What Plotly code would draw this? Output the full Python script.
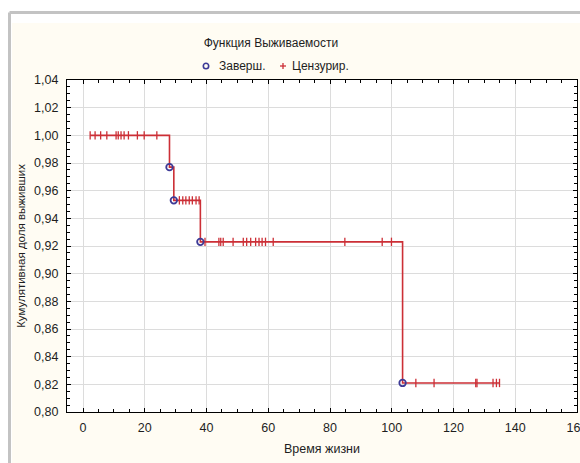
import plotly.graph_objects as go

# ---- data ----
event_times = [28.0, 29.4, 38.0, 103.5]
event_surv = [0.977, 0.953, 0.923, 0.821]

censor_times_1 = [2.3, 3.9, 5.7, 7.7, 10.7, 11.4, 12.3, 13.3, 14.7, 17.6, 19.8, 23.9]
censor_times_2 = [31.2, 32.3, 33.3, 34.4, 35.4, 36.6, 37.6]
censor_times_3 = [39.5, 44.0, 44.6, 45.4, 48.6, 51.9, 53.0, 54.3, 55.9, 57.0, 58.0,
                  59.1, 61.6, 84.8, 96.9, 99.9]
censor_times_4 = [107.8, 113.7, 127.2, 127.6, 132.8, 133.9, 134.9]
censor_levels = [1.0, 0.953, 0.923, 0.821]

line_start = 2.3
line_end = 135.0

title_text = "Функция Выживаемости"
legend_event = "Заверш."
legend_censor = "Цензурир."
x_title = "Время жизни"
y_title = "Кумулятивная доля выживших"

x_ticks = [0, 20, 40, 60, 80, 100, 120, 140, 160]
y_ticks = [0.80, 0.82, 0.84, 0.86, 0.88, 0.90, 0.92, 0.94, 0.96, 0.98, 1.00, 1.02, 1.04]

# ---- build step curve from data ----
step_x = [line_start] + event_times + [line_end]
step_y = [1.0] + event_surv + [event_surv[-1]]

cx, cy = [], []
for times, lvl in zip([censor_times_1, censor_times_2, censor_times_3, censor_times_4],
                      censor_levels):
    cx += times
    cy += [lvl] * len(times)

RED = "#cc2f36"
BLUE = "#3d3a96"
FONT = "Liberation Sans, Arial, sans-serif"
TXT = "#1e1e1e"

fig = go.Figure()
fig.add_trace(go.Scatter(x=step_x, y=step_y, mode="lines", line_shape="hv",
                         line=dict(color=RED, width=1.6), showlegend=False,
                         hoverinfo="skip"))
fig.add_trace(go.Scatter(x=cx, y=cy, mode="markers", name=legend_censor, showlegend=False,
                         marker=dict(symbol="line-ns", size=6,
                                     line=dict(color=RED, width=1.3), color=RED)))
fig.add_trace(go.Scatter(x=event_times, y=event_surv, mode="markers", name=legend_event,
                         showlegend=False,
                         marker=dict(symbol="circle-open", size=6.5,
                                     line=dict(color=BLUE, width=1.8), color=BLUE)))

W, H = 580, 463
L, R, T, B = 67, 3, 80, 51
pw, ph = W - L - R, H - T - B


def px(p):
    return (p - L) / pw


def py(q):
    return (H - B - q) / ph


LEG_Y = 66
shapes = [
    # white outer strip (top and left)
    dict(type="rect", xref="paper", yref="paper", x0=px(-5), x1=px(600), y0=py(-5), y1=py(23),
         fillcolor="white", line=dict(width=0), layer="below"),
    dict(type="rect", xref="paper", yref="paper", x0=px(-5), x1=px(12), y0=py(-5), y1=py(480),
         fillcolor="white", line=dict(width=0), layer="below"),
    # grey frame
    dict(type="line", xref="paper", yref="paper", x0=px(9.5), x1=px(600), y0=py(12.5), y1=py(12.5),
         line=dict(color="#c3c3c3", width=3)),
    dict(type="line", xref="paper", yref="paper", x0=px(9.5), x1=px(9.5), y0=py(12.5), y1=py(480),
         line=dict(color="#c3c3c3", width=3)),
    # legend symbols
    dict(type="circle", xref="paper", yref="paper", xsizemode="pixel", ysizemode="pixel",
         xanchor=px(206), yanchor=py(LEG_Y), x0=-2.7, x1=2.7, y0=-2.7, y1=2.7,
         line=dict(color=BLUE, width=1.6)),
    dict(type="line", xref="paper", yref="paper", xsizemode="pixel", ysizemode="pixel",
         xanchor=px(283), yanchor=py(LEG_Y), x0=-3, x1=3, y0=0, y1=0,
         line=dict(color=RED, width=1.3)),
    dict(type="line", xref="paper", yref="paper", xsizemode="pixel", ysizemode="pixel",
         xanchor=px(283), yanchor=py(LEG_Y), x0=0, x1=0, y0=-3, y1=3,
         line=dict(color=RED, width=1.3)),
]

annotations = [
    dict(text=legend_event, xref="paper", yref="paper", x=px(217), y=py(LEG_Y),
         xanchor="left", yanchor="middle", showarrow=False,
         font=dict(family=FONT, size=12, color=TXT)),
    dict(text=legend_censor, xref="paper", yref="paper", x=px(290), y=py(LEG_Y),
         xanchor="left", yanchor="middle", showarrow=False,
         font=dict(family=FONT, size=12, color=TXT)),
]

axis_common = dict(showline=True, linecolor="black", linewidth=1.2, mirror="allticks",
                   ticks="inside", ticklen=4, tickcolor="black", tickwidth=1,
                   showgrid=True, gridcolor="#dcdcdc", gridwidth=1, zeroline=False,
                   ticklabeloverflow="allow",
                   tickfont=dict(family=FONT, size=12.5, color=TXT))

fig.update_layout(
    width=W, height=H,
    margin=dict(l=L, r=R, t=T, b=B, autoexpand=False),
    paper_bgcolor="#fffcf3", plot_bgcolor="white",
    separators=", ",
    showlegend=False,
    font=dict(family=FONT, color=TXT),
    title=dict(text=title_text, x=271 / W, xanchor="center", xref="container",
               y=1 - 43 / H, yanchor="middle", yref="container",
               font=dict(family=FONT, size=12, color=TXT)),
    xaxis=dict(range=[-5.2, 160], tickvals=x_ticks, ticklabelstandoff=4,
               minor=dict(dtick=5, ticks="inside", ticklen=2.5, tickcolor="black", showgrid=False),
               title=dict(text=x_title, standoff=10, font=dict(family=FONT, size=12.5)),
               **axis_common),
    yaxis=dict(range=[0.80, 1.04], tickvals=y_ticks, tickformat=".2f", ticklabelstandoff=5,
               minor=dict(dtick=0.005, ticks="inside", ticklen=2.5, tickcolor="black", showgrid=False),
               title=dict(text=y_title, standoff=6, font=dict(family=FONT, size=11.5)),
               **axis_common),
    shapes=shapes,
    annotations=annotations,
)

fig.write_html("out.html", config={"displayModeBar": False},
               post_script="document.body.style.margin='0';document.body.style.padding='0';")
